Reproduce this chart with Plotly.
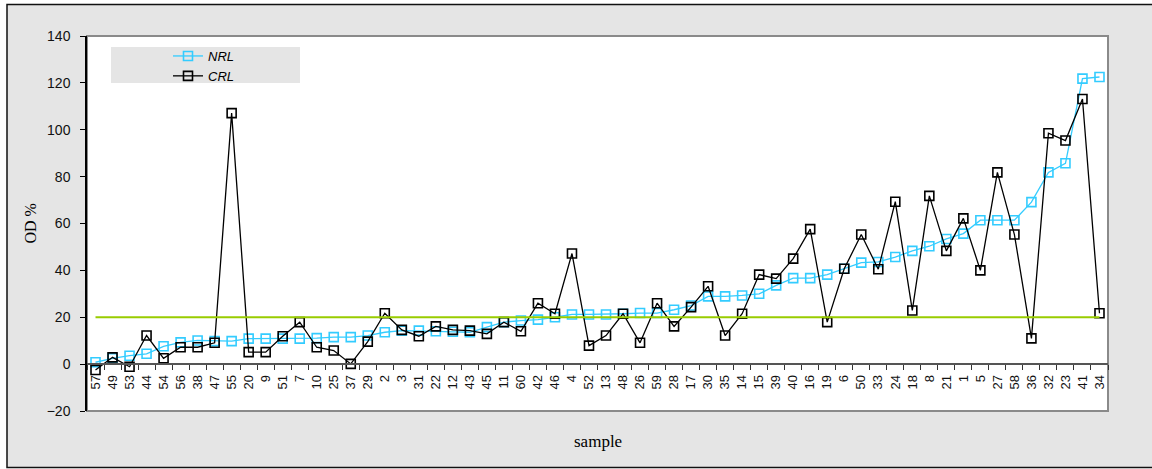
import plotly.graph_objects as go

samples = ["57", "49", "53", "44", "54", "56", "38", "47", "55", "20",
           "9", "51", "7", "10", "25", "37", "29", "2", "3", "31",
           "22", "12", "43", "45", "11", "60", "42", "46", "4", "52",
           "13", "48", "26", "59", "28", "17", "30", "35", "14", "15",
           "39", "40", "16", "19", "6", "50", "33", "24", "18", "8",
           "21", "1", "5", "27", "58", "36", "32", "23", "41", "34"]

nrl = [0.8, 2.5, 3.6, 4.4, 7.6, 9.3, 10.1, 9.8, 9.8, 10.9,
       10.9, 10.9, 10.9, 11.1, 11.5, 11.5, 12.2, 13.6, 14.3, 14.3,
       14.0, 13.8, 13.6, 15.8, 17.9, 18.6, 19.0, 20.0, 21.2, 21.2,
       21.2, 21.5, 21.8, 21.8, 23.2, 25.0, 28.9, 28.9, 29.3, 30.0,
       33.6, 36.7, 36.7, 38.2, 40.7, 43.3, 43.6, 45.7, 48.3, 50.3,
       53.4, 55.7, 61.4, 61.4, 61.4, 69.1, 81.8, 85.7, 121.8, 122.5]

crl = [-2.5, 2.9, -1.1, 12.2, 2.5, 7.2, 7.2, 9.1, 107.1, 5.1,
       5.1, 11.9, 17.9, 7.2, 5.8, 0.1, 9.6, 21.7, 14.6, 11.9,
       16.1, 14.6, 14.3, 12.9, 17.9, 14.0, 26.0, 21.5, 47.2, 7.9,
       12.2, 21.5, 9.1, 26.0, 16.1, 24.3, 33.2, 12.2, 21.5, 38.2,
       36.5, 45.0, 57.6, 17.9, 40.7, 55.3, 40.5, 69.3, 22.9, 71.8,
       48.3, 62.2, 40.0, 81.8, 55.3, 11.0, 98.5, 95.4, 113.1, 21.7]

threshold = 20
y_ticks = [-20, 0, 20, 40, 60, 80, 100, 120, 140]

fig = go.Figure()

fig.add_trace(go.Scatter(
    x=samples, y=nrl, name="NRL", mode="lines+markers",
    line=dict(color="#33ccff", width=1.3),
    marker=dict(symbol="square-open", size=9, color="#33ccff",
                line=dict(width=1.6, color="#33ccff"))))

fig.add_trace(go.Scatter(
    x=samples, y=crl, name="CRL", mode="lines+markers",
    line=dict(color="#000000", width=1.3),
    marker=dict(symbol="square-open", size=9, color="#000000",
                line=dict(width=1.6, color="#000000"))))

fig.add_trace(go.Scatter(
    x=[samples[0], samples[-1]], y=[threshold, threshold], mode="lines",
    line=dict(color="#99cc00", width=2), showlegend=False, hoverinfo="skip"))

FW, FH = 1152, 469
L, R, T, B = 87, 1108, 36, 411
W = R - L
H = B - T

def px(x):
    return (x - L) / W

def py(y):
    return (B - y) / H

# outer chart-area: gray fill, dark border on left/top/bottom
ox0, ox1, oy0, oy1 = px(7), px(1180), py(467.5), py(4.5)
outer_fill = (f"M{ox0},{oy0} L{ox1},{oy0} L{ox1},{oy1} L{ox0},{oy1} Z")
outer_edge = (f"M{ox1},{oy1} L{ox0},{oy1} L{ox0},{oy0} L{ox1},{oy0}")

shapes = [
    dict(type="path", xref="paper", yref="paper", layer="below",
         path=outer_fill, fillcolor="#e5e5e5", line=dict(width=0)),
    dict(type="path", xref="paper", yref="paper", layer="below",
         path=outer_edge, line=dict(color="#111111", width=1.5)),
    dict(type="rect", xref="paper", yref="paper", layer="below",
         x0=0, x1=1, y0=0, y1=1,
         fillcolor="#ffffff", line=dict(color="#8a8a8a", width=2)),
    dict(type="rect", xref="paper", yref="paper", layer="below",
         x0=px(111), x1=px(300), y0=py(83), y1=py(47),
         fillcolor="#e5e5e5", line=dict(width=0)),
]

fig.update_layout(
    width=FW, height=FH,
    margin=dict(l=L, r=FW - R, t=T, b=FH - B),
    paper_bgcolor="#ffffff",
    plot_bgcolor="rgba(0,0,0,0)",
    shapes=shapes,
    showlegend=True,
    legend=dict(x=px(168), y=py(41), xanchor="left", yanchor="top",
                bgcolor="rgba(0,0,0,0)", borderwidth=0,
                font=dict(family="Liberation Sans", size=13, color="#000000", style="italic"),
                itemwidth=30, tracegroupgap=0),
    xaxis=dict(type="category", categoryorder="array", categoryarray=samples,
               anchor="free", position=(0 - (-20)) / 160,
               range=[-0.5, len(samples) - 0.5],
               showline=True, linecolor="#555555", linewidth=1.5,
               ticks="outside", tickson="boundaries", ticklen=5,
               tickcolor="#333333", tickwidth=1, ticklabelstandoff=5,
               tickangle=-90, showgrid=False, zeroline=False,
               tickfont=dict(family="Liberation Sans", size=13, color="#111111")),
    yaxis=dict(range=[-20, 140], tickvals=y_ticks,
               showline=True, linecolor="#000000", linewidth=1.5,
               ticks="outside", ticklen=5, tickcolor="#000000", tickwidth=1,
               showgrid=False, zeroline=False, ticklabelstandoff=7,
               tickfont=dict(family="Liberation Sans", size=14, color="#111111")),
    annotations=[
        dict(text="OD %", xref="paper", yref="paper", x=px(30), y=0.5,
             textangle=-90, showarrow=False, xanchor="center", yanchor="middle",
             font=dict(family="Liberation Serif", size=16, color="#000000")),
        dict(text="sample", xref="paper", yref="paper", x=0.5, y=py(441),
             showarrow=False, xanchor="center", yanchor="middle",
             font=dict(family="Liberation Serif", size=17, color="#000000")),
    ],
)

fig.write_html(
    "out.html",
    config={"displayModeBar": False},
    post_script="document.body.style.margin='0';document.body.style.overflow='hidden';",
)
